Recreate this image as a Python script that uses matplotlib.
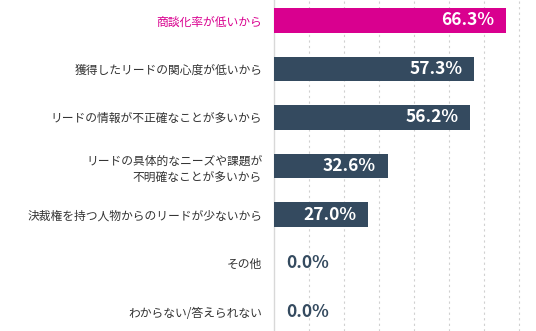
import matplotlib
matplotlib.use('Agg')
import matplotlib.pyplot as plt
import numpy as np

plt.rcParams['font.family'] = ['Noto Sans CJK JP', 'DejaVu Sans']

# Data
labels = [
	'商談化率が低いから',
	'獲得したリードの関心度が低いから',
	'リードの情報が不正確なことが多いから',
	'リードの具体的なニーズや課題が\n不明確なことが多いから',
	'決裁権を持つ人物からのリードが少ないから',
	'その他',
	'わからない/答えられない',
]
values = [66.3, 57.3, 56.2, 32.6, 27.0, 0.0, 0.0]

pink = '#d9008f'
navy = '#344a5f'
colors = [pink] + [navy] * (len(values) - 1)

fig = plt.figure(figsize=(5.36, 3.31), dpi=100)
ax = fig.add_axes([274/536, 0, 1 - 274/536, 1])

y = np.arange(len(values))
ax.barh(y, values, height=0.5, color=colors, zorder=3)

ax.set_xlim(0, 75)
ax.set_ylim(6.40, -0.42)

# Dotted gridlines
ax.set_xticks(np.arange(10, 80, 10))
ax.xaxis.grid(True, color='#d0d0d0', linestyle=(0, (2, 3)), linewidth=0.8, zorder=0)
ax.tick_params(axis='x', length=0, labelbottom=False)
ax.tick_params(axis='y', length=0, pad=8.5)

for s in ['top', 'right', 'bottom']:
	ax.spines[s].set_visible(False)
ax.spines['left'].set_color('#d8d8d8')
ax.spines['left'].set_linewidth(1.0)

ax.set_yticks(y)
ax.set_yticklabels(labels, fontsize=8.5, color='#333333', linespacing=1.3)
ax.get_yticklabels()[0].set_color(pink)

# Value labels
for i, v in enumerate(values):
	if v > 5:
		ax.text(v - 3.4, i, f'{v:.1f}%', ha='right', va='center', color='white',
				fontsize=12.5, fontweight='bold', zorder=4)
	else:
		ax.text(3.4, i, f'{v:.1f}%', ha='left', va='center', color=navy,
				fontsize=12.5, fontweight='bold', zorder=4)

fig.savefig('out.png', dpi=100)
